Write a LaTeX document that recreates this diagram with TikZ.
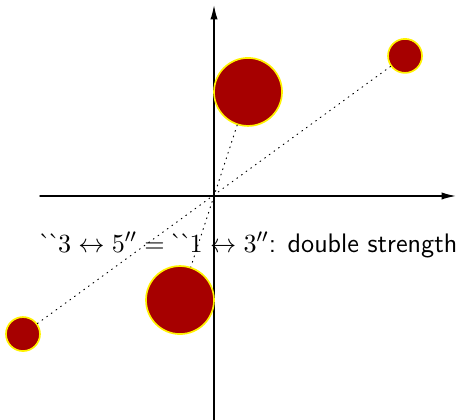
\documentclass[tikz,border=0pt]{standalone}
\usepackage{amsmath,amssymb}
\usepackage{tikz}
\usetikzlibrary{arrows.meta}
\usepackage{xcolor}
\definecolor{ballred}{RGB}{166,0,0}
\newcommand{\gq}{\text{\rmfamily\kern-1pt\textasciigrave\kern-1.6pt\textasciigrave\kern-1pt}}

\begin{document}
\begin{tikzpicture}[>={Latex[length=6pt,width=3pt]},font=\sffamily\fontsize{11.2}{13}\selectfont,line cap=round,
  bigball/.style={circle,draw=yellow,fill=ballred,line width=0.7pt,minimum size=1cm,inner sep=0pt},
  smallball/.style={circle,draw=yellow,fill=ballred,line width=0.7pt,minimum size=0.5cm,inner sep=0pt}]
\useasboundingbox (-3.147,-3.294) rectangle (3.735,2.882);
\coordinate (xl) at (-2.559,0);
\coordinate (xr) at (3.559,0);
\coordinate (yb) at (0,-3.294);
\coordinate (yt) at (0,2.809);
\draw[->,semithick] (xl) -- (xr);
\draw[->,semithick] (yb) -- (yt);
\node[bigball] (b1) at (0.5,1.53) {};
\node[bigball] (b2) at (-0.5,-1.53) {};
\node[smallball] (s1) at (2.809,2.06) {};
\node[smallball] (s2) at (-2.809,-2.03) {};
\draw[dotted] (b1) -- (b2);
\draw[dotted] (s1) -- (s2);
\node[anchor=base west,inner sep=0pt] (lbl) at (-2.559,-0.83) {$\gq 3 \leftrightarrow 5'' = \gq 1 \leftrightarrow 3''$: double strength};
\end{tikzpicture}
\end{document}
